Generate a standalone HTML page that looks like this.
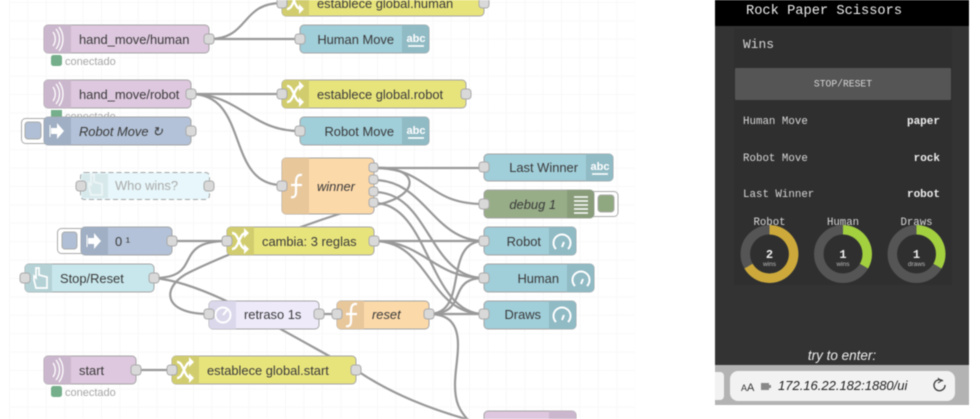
<!DOCTYPE html>
<html><head><meta charset="utf-8"><style>
html,body{margin:0;padding:0;background:#fff}
body{width:980px;height:419px;overflow:hidden;position:relative}
svg{position:absolute;left:0;top:0;filter:blur(.5px);font-family:"Liberation Sans",sans-serif}
.m{font-family:"Liberation Mono",monospace;fill:#d8d8d8}
.w{fill:none;stroke:#999;stroke-width:2.2}
.l{font-size:12.9px;fill:#3a3a3a}
.n{stroke:#a5a5a5;stroke-width:1}
.p{fill:#d9d9d9;stroke:#aaa;stroke-width:1}
.i{fill:none;stroke:#fff;stroke-width:2}
</style></head><body>
<svg width="980" height="419" viewBox="0 0 980 419" xmlns="http://www.w3.org/2000/svg">
<defs>
<pattern id="g" width="18.4" height="18.4" patternUnits="userSpaceOnUse" x="9" y="2"><path d="M0 .5H18.4M.5 0V18.4" fill="none" stroke="#f8f8f8"/></pattern>
<g id="sw"><path d="M-8-8C-1-8-1 8 6 8M-8 8C-1 8-1-8 6-8" fill="none" stroke="#fff" stroke-width="2.400"/><path d="M4-13l5 5-5 5zM4 3l5 5-5 5z" fill="#fff"/></g>
<g id="mq"><path d="M-3-7a12 12 0 0 1 0 14M0-10a16 16 0 0 1 0 20M3-12a20 20 0 0 1 0 24" fill="none" stroke="#fff" stroke-width="1.3"/></g>
<g id="ar"><path d="M-6-3H0V-8L7 0L0 8V3H-6Z" fill="#fff"/><path d="M-7-6V6" stroke="#fff"/></g>
<g id="fn"><path d="M6-11C1-12 0-8 0-3V6C0 10-2 12-5 11M-5-1H6" fill="none" stroke="#fff" stroke-width="2.2"/></g>
<g id="hd"><path d="M-6 1V-3L-4-1V-11H-1V-4L7-2V9H-4Z" fill="none" stroke="#fff" stroke-width="1.7"/></g>
<g id="abc"><text x="0" y="2" font-size="11" font-weight="bold" fill="#fff" text-anchor="middle">abc</text><path d="M-8 6H8" stroke="#fff" stroke-width="1.6"/></g>
<g id="ga"><path d="M-6 6A8.500 8.500 0 1 1 6 6M0 4L2-1" fill="none" stroke="#fff" stroke-width="2"/></g>
</defs>
<rect x="9" y="0" width="626" height="419" fill="url(#g)"/>

<!-- wires -->
<g class="w">
<path d="M209 39C250 39 240 3 282 3"/>
<path d="M209 39H300"/>
<path d="M191 94H282"/>
<path d="M191 94C240 94 250 131 300 131"/>
<path d="M191 94C250 94 225 185 282 185"/>
<path d="M374 168H484"/>
<path d="M374 168C430 168 425 204 484 204"/>
<path d="M374 168C418 165 424 195 376 205"/>
<path d="M374 180C425 180 433 241 484 241"/>
<path d="M374 192C430 192 428 278 484 278"/>
<path d="M374 203C430 203 428 314 484 314"/>
<path d="M172 241H227"/>
<path d="M154 278C205 278 170 241 227 241"/>
<path d="M154 278C200 282 255 315 340 362"/>
<path d="M209 314C160 314 162 285 190 272C225 255 300 225 374 203"/>
<path d="M374 241H484"/>
<path d="M374 241C425 241 432 278 484 278"/>
<path d="M374 241C430 241 428 314 484 314"/>
<path d="M319 314H337"/>
<path d="M429 314H484"/>
<path d="M429 314C470 314 442 241 484 241"/>
<path d="M429 314C470 314 445 278 484 278"/>
<path d="M429 314C450 314 458 325 458 345C458 360 455 370 455 385C455 400 458 410 470 422"/>
<path d="M136 370H172"/>
<path d="M356 370C390 393 430 410 484 424"/>
</g>

<!-- button tabs -->
<rect x="21.500" y="118.500" width="28" height="25" rx="4" fill="#fff" stroke="#aaa"/><rect x="25" y="122" width="16" height="17" rx="3" fill="#b0bfd5" stroke="#aaa"/>
<rect x="57.500" y="228.500" width="30" height="25" rx="4" fill="#fff" stroke="#aaa"/><rect x="62" y="232" width="15" height="17" rx="3" fill="#b0bfd5" stroke="#aaa"/>
<rect x="590" y="191.500" width="28" height="25" rx="4" fill="#fff" stroke="#aaa"/><rect x="598" y="195" width="16" height="17" rx="3" fill="#8fa87f" stroke="#aaa"/>

<!-- nodes -->
<g class="n">
<rect x="44" y="25" width="165" height="28" rx="4" fill="#dec8df"/><path d="M48 25H71V53H48a4 4 0 0 1-4-4V29a4 4 0 0 1 4-4z" fill="#cbb7cd" stroke="none"/>
<rect x="44" y="80" width="147" height="28" rx="4" fill="#dec8df"/><path d="M48 80H71V108H48a4 4 0 0 1-4-4V84a4 4 0 0 1 4-4z" fill="#cbb7cd" stroke="none"/>
<rect x="44" y="356" width="92" height="28" rx="4" fill="#dec8df"/><path d="M48 356H71V384H48a4 4 0 0 1-4-4V360a4 4 0 0 1 4-4z" fill="#cbb7cd" stroke="none"/>
<rect x="484" y="411" width="92" height="28" rx="4" fill="#dec8df"/><path d="M549 411H572a4 4 0 0 1 4 4V419H549z" fill="#cbb7cd" stroke="none"/>
<rect x="81" y="227" width="91" height="28" rx="4" fill="#b3c2d8"/><path d="M85 227H108V255H85a4 4 0 0 1-4-4V231a4 4 0 0 1 4-4z" fill="#a0afc3" stroke="none"/>
<rect x="80.500" y="172.500" width="129" height="27" rx="4" fill="#e7f7fb" stroke-dasharray="5 3"/><rect x="82" y="174" width="26" height="24" fill="#d8e9ec" stroke="none"/>
<rect x="25" y="264" width="129" height="28" rx="4" fill="#c8e7ec"/><path d="M29 264H52V292H29a4 4 0 0 1-4-4V268a4 4 0 0 1 4-4z" fill="#b4d1d5" stroke="none"/>
<rect x="282" y="-12" width="202" height="28" rx="4" fill="#e8e47c"/><path d="M286-12H309V16H286a4 4 0 0 1-4-4V-8a4 4 0 0 1 4-4z" fill="#d1cd6f" stroke="none"/>
<rect x="282" y="80" width="184" height="28" rx="4" fill="#e8e47c"/><path d="M286 80H309V108H286a4 4 0 0 1-4-4V84a4 4 0 0 1 4-4z" fill="#d1cd6f" stroke="none"/>
<rect x="227" y="227" width="147" height="28" rx="4" fill="#e8e47c"/><path d="M231 227H254V255H231a4 4 0 0 1-4-4V231a4 4 0 0 1 4-4z" fill="#d1cd6f" stroke="none"/>
<rect x="172" y="356" width="184" height="28" rx="4" fill="#e8e47c"/><path d="M176 356H199V384H176a4 4 0 0 1-4-4V360a4 4 0 0 1 4-4z" fill="#d1cd6f" stroke="none"/>
<rect x="300" y="25" width="129" height="28" rx="4" fill="#a0ced9"/><path d="M402 25H425a4 4 0 0 1 4 4V49a4 4 0 0 1-4 4H402z" fill="#90bac4" stroke="none"/>
<rect x="300" y="117" width="129" height="28" rx="4" fill="#a0ced9"/><path d="M402 117H425a4 4 0 0 1 4 4V141a4 4 0 0 1-4 4H402z" fill="#90bac4" stroke="none"/>
<rect x="484" y="154" width="129" height="27" rx="4" fill="#a0ced9"/><path d="M586 154H609a4 4 0 0 1 4 4V177a4 4 0 0 1-4 4H586z" fill="#90bac4" stroke="none"/>
<rect x="484" y="190" width="110" height="28" rx="4" fill="#97ad87"/><path d="M567 190H590a4 4 0 0 1 4 4V214a4 4 0 0 1-4 4H567z" fill="#889c7a" stroke="none"/>
<rect x="484" y="227" width="92" height="28" rx="4" fill="#a0ced9"/><path d="M549 227H572a4 4 0 0 1 4 4V251a4 4 0 0 1-4 4H549z" fill="#90bac4" stroke="none"/>
<rect x="484" y="264" width="110" height="28" rx="4" fill="#a0ced9"/><path d="M567 264H590a4 4 0 0 1 4 4V288a4 4 0 0 1-4 4H567z" fill="#90bac4" stroke="none"/>
<rect x="484" y="301" width="92" height="28" rx="4" fill="#a0ced9"/><path d="M549 301H572a4 4 0 0 1 4 4V325a4 4 0 0 1-4 4H549z" fill="#90bac4" stroke="none"/>
<rect x="282" y="158" width="92" height="56" rx="4" fill="#fcd9a9"/><path d="M286 158H309V214H286a4 4 0 0 1-4-4V162a4 4 0 0 1 4-4z" fill="#e8c79b" stroke="none"/>
<rect x="337" y="301" width="92" height="28" rx="4" fill="#fcd9a9"/><path d="M341 301H364V329H341a4 4 0 0 1-4-4V305a4 4 0 0 1 4-4z" fill="#e8c79b" stroke="none"/>
<rect x="209" y="301" width="110" height="28" rx="4" fill="#eeeafa"/><path d="M213 301H236V329H213a4 4 0 0 1-4-4V305a4 4 0 0 1 4-4z" fill="#dcd8ec" stroke="none"/>
</g>

<!-- status -->
<rect x="51" y="55" width="11" height="11" rx="2.500" fill="#74ae8a"/><text x="65" y="65" font-size="11" fill="#a6a6a6">conectado</text>
<rect x="51" y="110" width="11" height="7" fill="#74ae8a"/><text x="65" y="120" font-size="11" fill="#a6a6a6">conectado</text>
<rect x="44" y="117" width="147" height="28" rx="4" fill="#b3c2d8" stroke="#a5a5a5"/><path d="M48 117H71V145H48a4 4 0 0 1-4-4V121a4 4 0 0 1 4-4z" fill="#a0afc3"/>
<rect x="51" y="386" width="11" height="11" rx="2.500" fill="#74ae8a"/><text x="65" y="396" font-size="11" fill="#a6a6a6">conectado</text>

<!-- icons -->
<use href="#mq" x="56" y="39"/><use href="#mq" x="56" y="94"/><use href="#mq" x="56" y="370"/>
<use href="#ar" x="57" y="131"/><use href="#ar" x="94" y="241"/>
<use href="#hd" x="95" y="186" opacity=".55"/><use href="#hd" x="40" y="279"/>
<use href="#sw" x="295" y="1"/><use href="#sw" x="295" y="94"/><use href="#sw" x="240" y="241"/><use href="#sw" x="185" y="370"/>
<use href="#fn" x="296" y="186"/><use href="#fn" x="351" y="315"/>
<use href="#abc" x="416" y="40"/><use href="#abc" x="416" y="132"/><use href="#abc" x="600" y="168"/>
<path d="M574 197H588M574 201H588M574 205H588M574 209H588M574 213H588" stroke="#fff" stroke-width="1.500"/>
<use href="#ga" x="562" y="243"/><use href="#ga" x="581" y="280"/><use href="#ga" x="562" y="316"/>
<circle cx="223" cy="315" r="7.500" class="i"/><path d="M223 315L227 310" class="i"/>

<!-- labels -->
<g class="l">
<text x="79" y="44">hand_move/human</text><text x="79" y="99">hand_move/robot</text>
<text x="79" y="136" font-style="italic">Robot Move ↻</text>
<text x="115" y="190" style="fill:#aaa">Who wins?</text>
<text x="115" y="246">0 ¹</text>
<text x="60" y="283">Stop/Reset</text>
<text x="79" y="375">start</text>
<text x="317" y="8">establece global.human</text>
<text x="317" y="99">establece global.robot</text>
<text x="262" y="246">cambia: 3 reglas</text>
<text x="207" y="375">establece global.start</text>
<text x="394" y="44" text-anchor="end">Human Move</text>
<text x="394" y="136" text-anchor="end">Robot Move</text>
<text x="578" y="172" text-anchor="end">Last Winner</text>
<text x="556" y="209" text-anchor="end" font-style="italic">debug 1</text>
<text x="541" y="246" text-anchor="end">Robot</text>
<text x="559" y="283" text-anchor="end">Human</text>
<text x="541" y="319" text-anchor="end">Draws</text>
<text x="317" y="191" font-style="italic">winner</text>
<text x="372" y="319" font-style="italic">reset</text>
<text x="244" y="319">retraso 1s</text>
</g>

<!-- ports -->
<g class="p">
<rect x="204" y="34" width="10" height="10" rx="3"/><rect x="186" y="89" width="10" height="10" rx="3"/><rect x="186" y="126" width="10" height="10" rx="3"/>
<rect x="76" y="181" width="10" height="10" rx="3"/><rect x="204" y="181" width="10" height="10" rx="3"/>
<rect x="277" y="-2" width="10" height="10" rx="3"/><rect x="479" y="-2" width="10" height="10" rx="3"/>
<rect x="295" y="34" width="10" height="10" rx="3"/><rect x="277" y="89" width="10" height="10" rx="3"/><rect x="461" y="89" width="10" height="10" rx="3"/>
<rect x="295" y="126" width="10" height="10" rx="3"/><rect x="277" y="181" width="10" height="10" rx="3"/>
<rect x="369" y="163" width="9" height="9" rx="3"/><rect x="369" y="175" width="9" height="9" rx="3"/><rect x="369" y="187" width="9" height="9" rx="3"/><rect x="369" y="198" width="9" height="9" rx="3"/>
<rect x="479" y="162" width="10" height="10" rx="3"/><rect x="479" y="199" width="10" height="10" rx="3"/><rect x="479" y="236" width="10" height="10" rx="3"/><rect x="479" y="273" width="10" height="10" rx="3"/><rect x="479" y="309" width="10" height="10" rx="3"/>
<rect x="167" y="236" width="10" height="10" rx="3"/><rect x="222" y="236" width="10" height="10" rx="3"/><rect x="369" y="236" width="10" height="10" rx="3"/>
<rect x="20" y="273" width="10" height="10" rx="3"/><rect x="149" y="273" width="10" height="10" rx="3"/>
<rect x="204" y="309" width="10" height="10" rx="3"/><rect x="314" y="309" width="10" height="10" rx="3"/><rect x="332" y="309" width="10" height="10" rx="3"/><rect x="424" y="309" width="10" height="10" rx="3"/>
<rect x="131" y="365" width="10" height="10" rx="3"/><rect x="167" y="365" width="10" height="10" rx="3"/><rect x="351" y="365" width="10" height="10" rx="3"/>
</g>

<!-- dashboard -->
<rect x="715" y="0" width="254" height="365" fill="#333"/>
<rect x="715" y="0" width="254" height="26" fill="#000"/>
<text x="746" y="14" class="m" font-size="13.700" style="fill:#eee">Rock Paper Scissors</text>
<rect x="734" y="28" width="218" height="257" fill="#2f2f2f"/>
<text x="743" y="48" class="m" font-size="12.900">Wins</text>
<rect x="735" y="68" width="216" height="32" rx="1" fill="#555"/>
<text x="843" y="86.500" class="m" font-size="9.700" text-anchor="middle">STOP/RESET</text>
<g class="m" font-size="10.800"><text x="743" y="124">Human Move</text><text x="743" y="161">Robot Move</text><text x="743" y="197">Last Winner</text></g>
<g class="m" font-size="11" font-weight="bold" text-anchor="end" style="fill:#eee"><text x="940" y="124">paper</text><text x="940" y="161">rock</text><text x="940" y="197">robot</text></g>
<g class="m" font-size="10.700" text-anchor="middle"><text x="769.500" y="225">Robot</text><text x="843" y="225">Human</text><text x="916.500" y="225">Draws</text></g>
<g fill="none" stroke-width="9.500">
<circle cx="769.500" cy="254" r="24.200" stroke="#555"/><path d="M769.500 229.800A24.200 24.200 0 1 1 748.500 266.100" stroke="#cca93a"/>
<circle cx="843" cy="254" r="24.200" stroke="#555"/><path d="M843 229.800A24.200 24.200 0 0 1 864 266.100" stroke="#a2d03f"/>
<circle cx="916.500" cy="254" r="24.200" stroke="#555"/><path d="M916.500 229.800A24.200 24.200 0 0 1 937.500 266.100" stroke="#a2d03f"/>
</g>
<g text-anchor="middle" fill="#eee">
<g font-size="12" font-weight="bold" font-family="Liberation Mono, monospace"><text x="769.500" y="258">2</text><text x="843" y="258">1</text><text x="916.500" y="258">1</text></g>
<g font-size="6.500" fill="#bbb"><text x="769.500" y="266">wins</text><text x="843" y="266">wins</text><text x="916.500" y="266">draws</text></g>
</g>
<text x="842" y="360" font-size="13.500" font-style="italic" fill="#eee" text-anchor="middle">try to enter:</text>
<rect x="715" y="365" width="254" height="40" fill="#b3b3b3"/>
<path d="M715 372H720a4 4 0 0 1 4 4V396a4 4 0 0 1-4 4H715z" fill="#f2f2f2"/>
<rect x="730" y="371" width="225" height="30" rx="8" fill="#f2f2f2"/>
<text x="741" y="391" font-size="9" fill="#333">A<tspan font-size="11">A</tspan></text>
<rect x="761" y="383" width="8" height="7" fill="#888"/>
<rect x="769" y="385" width="2" height="3" fill="#888"/>
<text x="778" y="390" font-size="13" font-style="italic" fill="#222">172.16.22.182:1880/ui</text>
<path d="M943 381A5.500 5.500 0 1 0 945 385" fill="none" stroke="#333" stroke-width="1.300"/><path d="M938 378l3 3-3 2" fill="none" stroke="#333"/>
</svg>
</body></html>
